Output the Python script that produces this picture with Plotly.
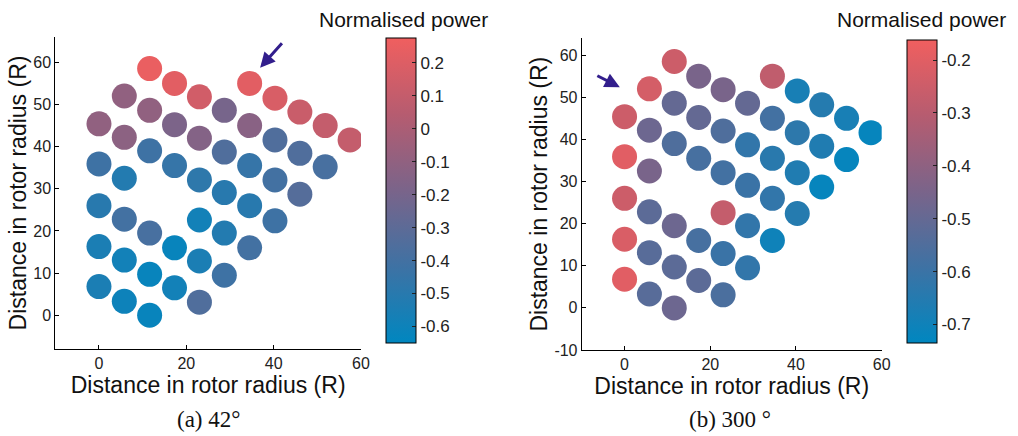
import plotly.graph_objects as go

# Turbine positions (rotor radii)
x_pos = [11.6, 17.3, 23.0, 34.5, 40.3, 46.0, 51.8, 57.5,
         5.8, 0.0, 11.6, 5.8, 17.3, 28.7, 23.0, 34.5, 40.3, 46.0, 51.8,
         11.6, 0.0, 17.3, 28.7, 5.8, 23.0, 34.5, 40.3, 46.0, 28.7,
         0.0, 34.5, 5.8, 23.0, 40.3, 11.6, 28.7, 0.0, 17.3, 34.5,
         5.8, 23.0, 11.6, 28.7, 0.0, 17.3, 5.8, 23.0, 11.6]
y_pos = [58.5, 55.0, 51.8, 55.0, 51.5, 48.2, 45.0, 41.6,
         52.0, 45.4, 48.6, 42.2, 45.2, 48.6, 42.0, 45.0, 41.6, 38.4, 35.2,
         39.0, 35.9, 35.5, 38.7, 32.5, 32.1, 35.5, 32.1, 28.7, 29.1,
         26.0, 26.0, 22.8, 22.6, 22.4, 19.5, 19.5, 16.3, 16.0, 16.0,
         13.1, 12.9, 9.7, 9.5, 6.8, 6.5, 3.3, 3.1, 0.0]

# Normalised power, (a) 42 deg
power_a = [0.25, 0.22, 0.15, 0.22, 0.18, 0.12, 0.10, 0.10,
           -0.10, -0.10, -0.10, -0.12, -0.18, -0.20, -0.15, -0.13, -0.35, -0.35, -0.38,
           -0.42, -0.42, -0.45, -0.35, -0.52, -0.48, -0.45, -0.40, -0.33, -0.50,
           -0.50, -0.50, -0.40, -0.58, -0.42, -0.38, -0.52, -0.55, -0.62, -0.40,
           -0.58, -0.55, -0.62, -0.42, -0.55, -0.58, -0.60, -0.35, -0.62]
# Normalised power, (b) 300 deg
power_b = [-0.25, -0.45, -0.45, -0.28, -0.68, -0.65, -0.68, -0.72,
           -0.23, -0.25, -0.50, -0.48, -0.50, -0.50, -0.55, -0.58, -0.63, -0.66, -0.72,
           -0.55, -0.20, -0.57, -0.62, -0.45, -0.58, -0.64, -0.66, -0.72, -0.60,
           -0.25, -0.62, -0.52, -0.27, -0.65, -0.48, -0.62, -0.22, -0.57, -0.70,
           -0.53, -0.60, -0.52, -0.62, -0.20, -0.52, -0.53, -0.56, -0.48]

cbar_a_ticks = [0.2, 0.1, 0, -0.1, -0.2, -0.3, -0.4, -0.5, -0.6]
cbar_a_text = ["0.2", "0.1", "0", "-0.1", "-0.2", "-0.3", "-0.4", "-0.5", "-0.6"]
cbar_b_ticks = [-0.2, -0.3, -0.4, -0.5, -0.6, -0.7]
cbar_b_text = ["-0.2", "-0.3", "-0.4", "-0.5", "-0.6", "-0.7"]
x_ticks = [0, 20, 40, 60]
y_ticks_a = [0, 10, 20, 30, 40, 50, 60]
y_ticks_b = [-10, 0, 10, 20, 30, 40, 50, 60]

colorscale = [[0.0, "rgb(0,135,192)"], [0.25, "rgb(62,114,164)"],
              [0.5, "rgb(122,100,138)"], [0.75, "rgb(182,92,112)"],
              [1.0, "rgb(240,95,95)"]]

W, H = 1018, 436
def px(x): return x / W
def py(y): return 1 - y / H

font = "Liberation Sans, Arial, sans-serif"
serif = "Liberation Serif, Times New Roman, serif"
fig = go.Figure()

fig.add_trace(go.Scatter(x=x_pos, y=y_pos, mode="markers", xaxis="x", yaxis="y",
                         marker=dict(size=25, color=power_a, coloraxis="coloraxis",
                                     line=dict(width=0)), showlegend=False))
fig.add_trace(go.Scatter(x=x_pos, y=y_pos, mode="markers", xaxis="x2", yaxis="y2",
                         marker=dict(size=25, color=power_b, coloraxis="coloraxis2",
                                     line=dict(width=0)), showlegend=False))

axis_common = dict(showgrid=False, zeroline=False, showline=True, linecolor="black",
                   linewidth=1, ticks="inside", ticklen=4, tickcolor="black",
                   tickfont=dict(size=16, color="#222", family=font))
title_font = dict(size=23, family=font, color="#111")

def cb(x, ytop, length, vals, text):
    return dict(x=x, xanchor="left", y=ytop, yanchor="top", lenmode="pixels", len=length,
                thicknessmode="pixels", thickness=30, xpad=0, ypad=0,
                outlinecolor="black", outlinewidth=1, ticks="inside", ticklen=4,
                tickcolor="#222", tickvals=vals, ticktext=text,
                tickfont=dict(size=17, color="#222", family=font))

fig.update_layout(
    width=W, height=H, margin=dict(l=0, r=0, t=0, b=0, autoexpand=False),
    paper_bgcolor="white", plot_bgcolor="white",
    xaxis=dict(domain=[px(55.3), px(361)], range=[-10, 60], tickvals=x_ticks,
               title=dict(text="Distance in rotor radius (R)", font=title_font, standoff=4),
               anchor="y", **axis_common),
    yaxis=dict(domain=[py(349), py(37)], range=[-8, 66], tickvals=y_ticks_a,
               title=dict(text="Distance in rotor radius (R)", font=title_font, standoff=0),
               anchor="x", **axis_common),
    xaxis2=dict(domain=[px(581.7), px(881.7)], range=[-10, 60], tickvals=x_ticks,
                title=dict(text="Distance in rotor radius (R)", font=title_font, standoff=4),
                anchor="y2", **axis_common),
    yaxis2=dict(domain=[py(350), py(38.3)], range=[-10, 64], tickvals=y_ticks_b,
                ticktext=[str(v) if v >= 0 else "-" + str(-v) for v in y_ticks_b],
                title=dict(text="Distance in rotor radius (R)", font=title_font, standoff=0),
                anchor="x2", **axis_common),
    coloraxis=dict(colorscale=colorscale, cmin=-0.65, cmax=0.275,
                   colorbar=cb(px(386), py(38), 305, cbar_a_ticks, cbar_a_text)),
    coloraxis2=dict(colorscale=colorscale, cmin=-0.735, cmax=-0.162,
                    colorbar=cb(px(906.7), py(40), 303, cbar_b_ticks, cbar_b_text)),
)

# Colorbar titles and captions
fig.add_annotation(text="Normalised power", x=px(403), y=py(20), xref="paper", yref="paper",
                   xanchor="center", yanchor="middle",
                   showarrow=False, font=dict(size=21, family=font, color="#111"))
fig.add_annotation(text="Normalised power", x=px(921), y=py(20), xref="paper", yref="paper",
                   xanchor="center", yanchor="middle",
                   showarrow=False, font=dict(size=21, family=font, color="#111"))
fig.add_annotation(text="(a) 42°", x=px(208), y=py(419), xref="paper", yref="paper",
                   xanchor="center", yanchor="middle",
                   showarrow=False, font=dict(size=23, family=serif, color="#111"))
fig.add_annotation(text="(b) 300 °", x=px(730), y=py(419), xref="paper", yref="paper",
                   xanchor="center", yanchor="middle",
                   showarrow=False, font=dict(size=23, family=serif, color="#111"))

# Arrows marking the reference turbine
arrow_col = "rgb(50,30,140)"
fig.add_annotation(x=36.9, y=58.7, ax=42.2, ay=64.9, xref="x", yref="y", axref="x", ayref="y",
                   showarrow=True, arrowhead=2, arrowsize=1, arrowwidth=3, arrowcolor=arrow_col, text="")
fig.add_annotation(x=-1.1, y=52.4, ax=-6.7, ay=55.3, xref="x2", yref="y2", axref="x2", ayref="y2",
                   showarrow=True, arrowhead=2, arrowsize=1, arrowwidth=3, arrowcolor=arrow_col, text="")

fig.write_html("out.html")
